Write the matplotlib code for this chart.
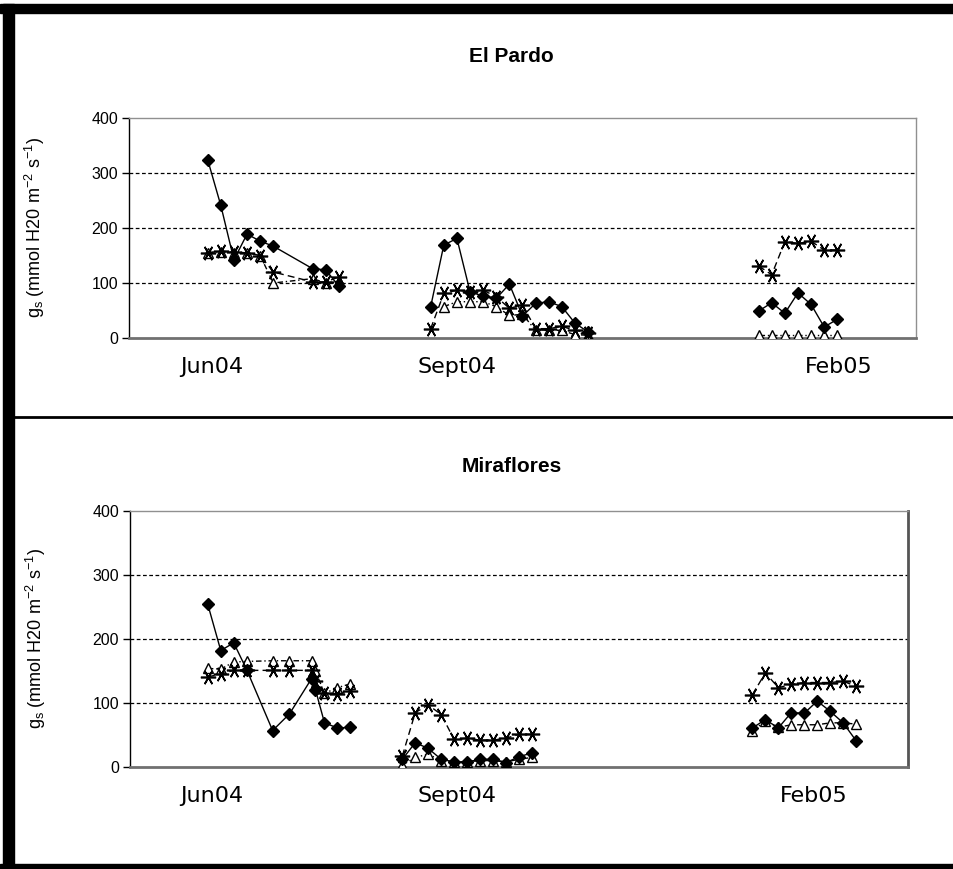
import numpy as np
import matplotlib.pyplot as plt
from matplotlib.patches import Rectangle
from matplotlib.lines import Line2D

# ---- El Pardo (top panel) ----
pardo_jun_x = [6, 7, 8, 9, 10, 11, 14, 15, 16]
pardo_jun_diamond = [324, 241, 142, 189, 176, 167, 126, 124, 94]
pardo_jun_star = [155, 158, 156, 155, 150, 120, 102, 102, 111]
pardo_jun_tri = [155, 157, 155, 155, 150, 100, 108, 100, 103]

pardo_sep_x = [23, 24, 25, 26, 27, 28, 29, 30, 31, 32, 33, 34, 35]
pardo_sep_diamond = [57, 169, 181, 84, 76, 72, 98, 40, 63, 66, 57, 27, 11]
pardo_sep_star = [17, 81, 87, 84, 87, 75, 54, 60, 17, 17, 21, 14, 10]
pardo_sep_tri_x = [24, 25, 26, 27, 28, 29, 30, 31, 32, 33, 34, 35]
pardo_sep_tri = [57, 66, 66, 66, 57, 41, 43, 14, 14, 14, 6, 5]

pardo_feb_x = [48, 49, 50, 51, 52, 53, 54]
pardo_feb_diamond = [49, 64, 45, 82, 61, 20, 34]
pardo_feb_star = [131, 115, 175, 172, 176, 160, 160]
pardo_feb_tri = [5, 5, 5, 5, 5, 5, 5]

# ---- Miraflores (bottom panel) ----
mira_jun_x = [6, 7, 8, 9, 11, 12.3, 14, 14.3, 15, 16, 17]
mira_jun_diamond = [254, 182, 194, 152, 57, 83, 138, 121, 69, 61, 62]
mira_jun_star = [141, 145, 151, 151, 151, 151, 151, 135, 115, 114, 118]
mira_jun_tri = [154, 153, 164, 165, 166, 166, 166, 150, 115, 124, 130]

mira_sep_x = [21, 22, 23, 24, 25, 26, 27, 28, 29, 30, 31]
mira_sep_diamond = [12, 38, 29, 12, 8, 8, 12, 12, 7, 16, 22]
mira_sep_star = [17, 85, 97, 82, 43, 45, 42, 42, 45, 51, 51]
mira_sep_tri = [3, 15, 20, 10, 8, 8, 10, 10, 8, 12, 15]

mira_feb_x = [48, 49, 50, 51, 52, 53, 54, 55, 56]
mira_feb_diamond = [61, 74, 61, 85, 84, 103, 87, 69, 41]
mira_feb_star = [113, 147, 124, 129, 132, 132, 132, 134, 126]
mira_feb_tri = [56, 72, 62, 66, 66, 66, 69, 69, 67]

month_labels = ['Jun04', 'Sept04', 'Feb05']
pardo_label_x = [6.3, 25.0, 54.1]
mira_label_x = [6.3, 25.2, 52.7]

W, H = 954, 869
fig = plt.figure(figsize=(W / 100, H / 100), dpi=100)
fig.patch.set_facecolor('white')

ax1 = fig.add_axes([129 / W, 1 - 338 / H, (916 - 129) / W, (338 - 118) / H])
ax2 = fig.add_axes([130 / W, 1 - 767 / H, (908 - 130) / W, (767 - 511) / H])

star = (6, 2, 90)


def draw_period(ax, x, d, s, t, tx=None):
    if tx is None:
        tx = x
    ax.plot(tx, t, color='black', lw=1, ls=(0, (4, 2, 1, 2)), marker='^',
            ms=7, mfc='white', mec='black', mew=1, zorder=3)
    ax.plot(x, s, color='black', lw=1, ls=(0, (5, 3)), marker=star,
            ms=11, mec='black', mew=1.2, zorder=4)
    ax.plot(x, d, color='black', lw=1, ls='-', marker='D',
            ms=6, mfc='black', mec='black', zorder=5)


draw_period(ax1, pardo_jun_x, pardo_jun_diamond, pardo_jun_star, pardo_jun_tri)
draw_period(ax1, pardo_sep_x, pardo_sep_diamond, pardo_sep_star, pardo_sep_tri, pardo_sep_tri_x)
draw_period(ax1, pardo_feb_x, pardo_feb_diamond, pardo_feb_star, pardo_feb_tri)

draw_period(ax2, mira_jun_x, mira_jun_diamond, mira_jun_star, mira_jun_tri)
draw_period(ax2, mira_sep_x, mira_sep_diamond, mira_sep_star, mira_sep_tri)
draw_period(ax2, mira_feb_x, mira_feb_diamond, mira_feb_star, mira_feb_tri)

ylab = r'g$_\mathregular{s}$ (mmol H20 m$^\mathregular{-2}$ s$^\mathregular{-1}$)'

for ax, lx, title, ty in [(ax1, pardo_label_x, 'El Pardo', 57),
                          (ax2, mira_label_x, 'Miraflores', 467)]:
    ax.set_xlim(0, 60)
    ax.set_ylim(0, 400)
    ax.set_yticks([0, 100, 200, 300, 400])
    ax.set_yticklabels(['0', '100', '200', '300', '400'],
                       fontfamily='Liberation Sans', fontsize=11.5)
    ax.tick_params(axis='y', direction='out', length=5, width=1, color='black', pad=3)
    ax.set_xticks(lx)
    ax.set_xticklabels(month_labels, fontfamily='DejaVu Sans', fontsize=16)
    ax.tick_params(axis='x', length=0, pad=14)
    for v in [100, 200, 300]:
        ax.axhline(v, color='black', lw=0.9, ls=(0, (3, 2)), zorder=1)
    ax.spines['left'].set_color('black')
    ax.spines['left'].set_linewidth(1)
    ax.spines['bottom'].set_color('#707070')
    ax.spines['bottom'].set_linewidth(2)
    ax.spines['top'].set_color('#909090')
    ax.spines['top'].set_linewidth(1)
    ax.spines['right'].set_color('#909090')
    ax.spines['right'].set_linewidth(1)
    ax.set_ylabel(ylab, fontfamily='Liberation Sans', fontsize=13, labelpad=32)
    fig.text(0.536, 1 - ty / H, title, ha='center', va='center',
             fontfamily='Liberation Sans', fontweight='bold', fontsize=15)

ax2.spines['right'].set_color('#555555')
ax2.spines['right'].set_linewidth(2)

# frame around the image
fig.add_artist(Rectangle((0, 1 - 13 / H), 1, 9 / H, transform=fig.transFigure,
                         color='black', zorder=10))
fig.add_artist(Rectangle((3 / W, 0), 11 / W, 1 - 4 / H, transform=fig.transFigure,
                         color='black', zorder=10))
fig.add_artist(Rectangle((0, 0), 1, 5 / H, transform=fig.transFigure,
                         color='black', zorder=10))
fig.add_artist(Line2D([14 / W, 1], [1 - 417 / H, 1 - 417 / H], transform=fig.transFigure,
                      color='black', lw=2, zorder=10))

fig.savefig('out.png', dpi=100, facecolor='white')
